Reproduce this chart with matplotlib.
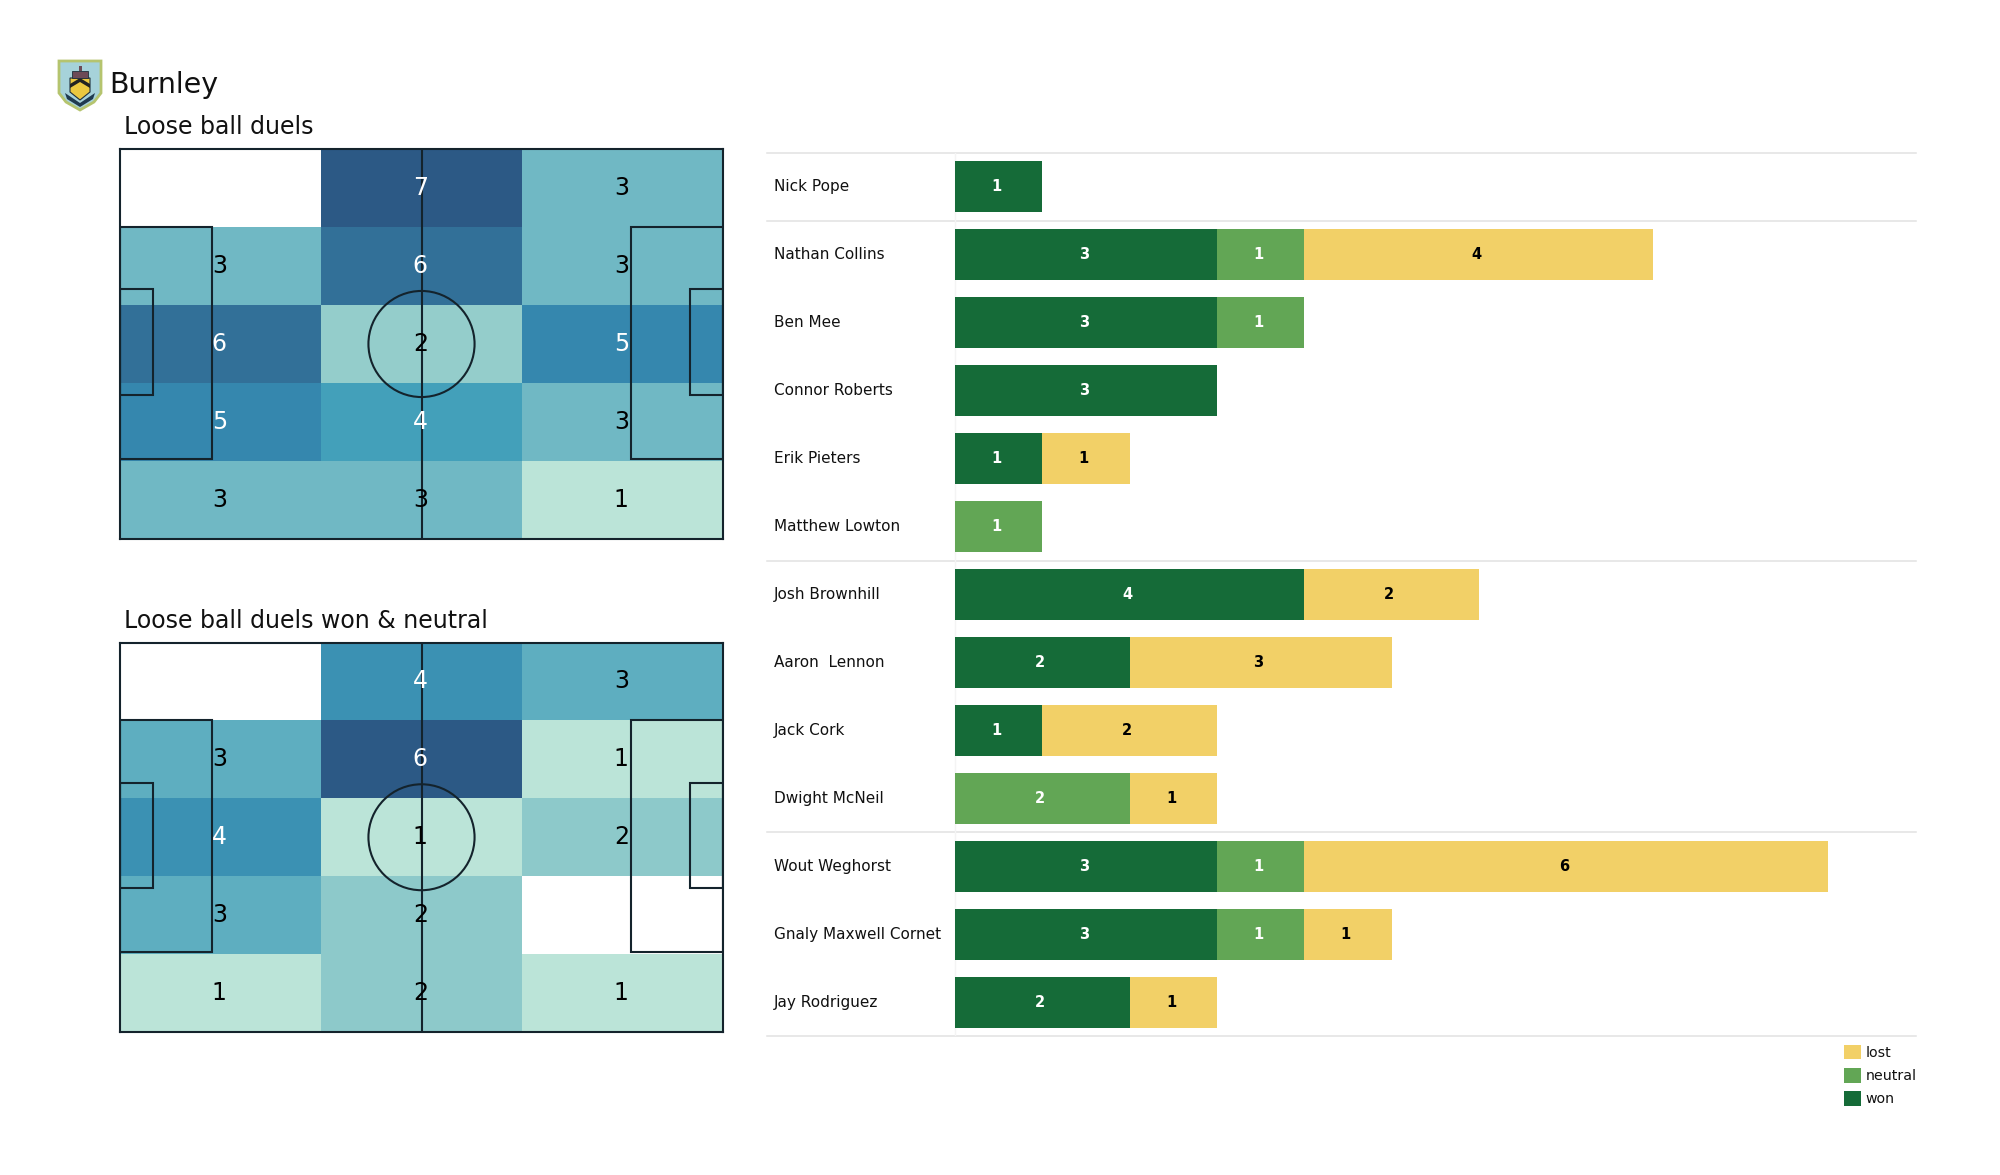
import matplotlib
matplotlib.use("Agg")
import matplotlib.pyplot as plt
import numpy as np
from matplotlib.colors import LinearSegmentedColormap
from matplotlib.patches import Rectangle, Ellipse, Polygon

W, H = 2000, 1175

team = "Burnley"
title_all = "Loose ball duels"
title_won = "Loose ball duels won & neutral"

zones_all = [[0, 7, 3], [3, 6, 3], [6, 2, 5], [5, 4, 3], [3, 3, 1]]
zones_won = [[0, 4, 3], [3, 6, 1], [4, 1, 2], [3, 2, 0], [1, 2, 1]]

players = ["Nick Pope", "Nathan Collins", "Ben Mee", "Connor Roberts", "Erik Pieters",
           "Matthew Lowton", "Josh Brownhill", "Aaron  Lennon", "Jack Cork", "Dwight McNeil",
           "Wout Weghorst", "Gnaly Maxwell Cornet", "Jay Rodriguez"]
won = [1, 3, 3, 3, 1, 0, 4, 2, 1, 0, 3, 3, 2]
neutral = [0, 1, 1, 0, 0, 1, 0, 0, 0, 2, 1, 1, 0]
lost = [0, 4, 0, 0, 1, 0, 2, 3, 2, 1, 6, 1, 1]
group_edges = [0, 1, 6, 10, 13]

WON_C, NEU_C, LOST_C = "#156b38", "#62a655", "#f2d067"
LINE_C = "#14232c"
cmap = LinearSegmentedColormap.from_list("duels", [
    (0.0, "#bbe4d8"), (1/6, "#94cdcb"), (2/6, "#70b8c4"), (3/6, "#43a0ba"),
    (4/6, "#3587ae"), (5/6, "#327098"), (1.0, "#2c5985")])

fig = plt.figure(figsize=(W / 100, H / 100), dpi=100, facecolor="white")


def px_axes(x0, y0, x1, y1, **kw):
    return fig.add_axes([x0 / W, 1 - y1 / H, (x1 - x0) / W, (y1 - y0) / H], **kw)


def pitch(y0, y1, zones, title):
    ax = px_axes(120, y0, 723, y1)
    z = np.array(zones, dtype=float)
    m = np.ma.masked_where(z == 0, (z - 1) / (z.max() - 1))
    ax.pcolormesh(np.linspace(0, 100, 4), np.linspace(0, 100, 6), m,
                  cmap=cmap, vmin=0, vmax=1, edgecolors="none", zorder=1)
    ax.set_xlim(0, 100)
    ax.set_ylim(100, 0)
    ax.set_xticks([])
    ax.set_yticks([])
    for s in ax.spines.values():
        s.set_linewidth(1.5)
        s.set_color(LINE_C)
    kw = dict(fill=False, ec=LINE_C, lw=1.5, zorder=2)
    ax.add_patch(Rectangle((0, 20), 15.2, 59.5, **kw))
    ax.add_patch(Rectangle((84.8, 20), 15.2, 59.5, **kw))
    ax.add_patch(Rectangle((0, 36), 5.5, 27, **kw))
    ax.add_patch(Rectangle((94.5, 36), 5.5, 27, **kw))
    ax.add_patch(Ellipse((50, 50), 17.6, 27.2, **kw))
    ax.plot([50, 50], [0, 100], color=LINE_C, lw=1.5, zorder=2)
    for r, row in enumerate(zones):
        for c, v in enumerate(row):
            if v > 0:
                ax.text((c + 0.5) * 100 / 3 - 0.2, (r + 0.5) * 20, str(v), ha="center", va="center",
                        fontsize=17, color="white" if v >= 4 else "black", zorder=3)
    fig.text(124 / W, 1 - (y0 - 22) / H, title, fontsize=17, va="center", ha="left", color="#111111")


pitch(149, 539, zones_all, title_all)
pitch(642.5, 1032, zones_won, title_won)

fig.text(109 / W, 1 - 85 / H, team, fontsize=20.5, va="center", ha="left", color="#111111")

# simplified crest
cr = px_axes(56, 58, 104, 112)
cr.set_xlim(0, 48)
cr.set_ylim(54, 0)
cr.axis("off")
shield = [(3, 3), (45, 3), (45, 35), (38, 44), (24, 52), (10, 44), (3, 35)]
cr.add_patch(Polygon(shield, fc="#a6d2da", ec="#b5c46e", lw=2))
cr.add_patch(Polygon([(14, 20), (34, 20), (34, 34), (24, 42), (14, 34)], fc="#ecc83f", ec="#1f2f3a", lw=0.8))
cr.add_patch(Polygon([(14, 26), (24, 20), (34, 26), (34, 30), (24, 24), (14, 30)], fc="#222222", ec="none"))
cr.add_patch(Rectangle((16, 13), 16, 7, fc="#6d4a56", ec="#1f2f3a", lw=0.6))
cr.add_patch(Rectangle((22.5, 8), 3, 5, fc="#6d4a56", ec="none"))
cr.add_patch(Polygon([(9, 35), (24, 45), (39, 35), (37, 41), (24, 49), (11, 41)], fc="#1f3a4f", ec="none"))

# bars
UNIT = 87.3
X0, X1 = 767, 1916
ZERO = 955
bx = px_axes(X0, 153, X1, 1036)
bx.set_xlim((X0 - ZERO) / UNIT, (X1 - ZERO) / UNIT)
bx.set_ylim(13, 0)
bx.axis("off")
y = np.arange(len(players)) + 0.5
won_a, neu_a, lost_a = np.array(won), np.array(neutral), np.array(lost)
bx.barh(y, won_a, height=0.75, color=WON_C, label="won", zorder=2)
bx.barh(y, neu_a, left=won_a, height=0.75, color=NEU_C, label="neutral", zorder=2)
bx.barh(y, lost_a, left=won_a + neu_a, height=0.75, color=LOST_C, label="lost", zorder=2)
for i, name in enumerate(players):
    bx.text((773.5 - ZERO) / UNIT, y[i], name, fontsize=11, va="center", ha="left", color="#111111")
    left = 0
    for vals, col in ((won, "white"), (neutral, "white"), (lost, "black")):
        v = vals[i]
        if v:
            bx.text(left + v / 2 - 0.025, y[i], str(v), fontsize=10.5, fontweight="bold",
                    ha="center", va="center", color=col, zorder=3)
        left += v
for g in group_edges:
    bx.plot(bx.get_xlim(), [g, g], color="#e2e2e2", lw=1.1, zorder=1, clip_on=False)
bx.plot([0, 0], [0, 13], color="#f4f4f4", lw=1, zorder=1)

hs, ls = bx.get_legend_handles_labels()
fig.legend(hs[::-1], ls[::-1], loc="upper left", bbox_to_anchor=(1841 / W, 1 - 1042 / H),
           frameon=False, fontsize=10.2, handlelength=1.2, handleheight=1.2,
           labelspacing=0.58, handletextpad=0.35, borderpad=0.2, borderaxespad=0,
           labelcolor="#111111")

fig.savefig("out.png", dpi=100, facecolor="white")
